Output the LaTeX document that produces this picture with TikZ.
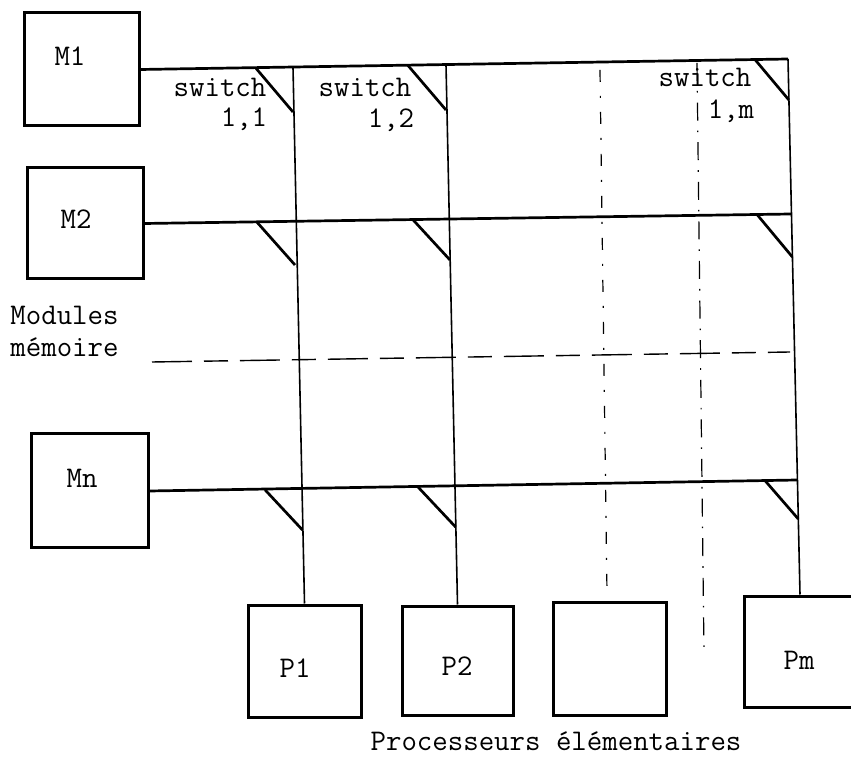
\documentclass[tikz,border=0pt]{standalone}
\usepackage{fontspec}
\begin{document}
\begin{tikzpicture}[x=0.5pt,y=-0.5pt,
  box/.style 2 args={draw, line width=1.5pt, inner sep=0pt, minimum width=#1*0.5pt, minimum height=#2*0.5pt},
  lbl/.style={font=\fontsize{15pt}{18pt}\ttfamily, inner sep=0pt, anchor=base},
  lblw/.style={lbl, anchor=base west},
  bus/.style={line width=1.35pt},
  col/.style={line width=0.8pt},
  sw/.style={line width=1.35pt},
  dashdotcol/.style={line width=0.6pt, dash pattern=on 6pt off 7pt on 1pt off 7pt},
  dashcol/.style={line width=0.6pt, dash pattern=on 9pt off 5pt on 0.8pt off 5pt},
  dashrow/.style={line width=0.7pt, dash pattern=on 20pt off 6pt on 12pt off 6pt}
]
\useasboundingbox (0,0) rectangle (851,758);

% memory modules
\node[box={115}{113}] (M1) at (81.5,69.5) {};
\node[box={116}{111}] (M2) at (85,223.5) {};
\node[box={117}{114}] (Mn) at (89.5,491) {};
% processors
\node[box={113}{112}] (P1) at (304.5,661) {};
\node[box={111}{109}] (P2) at (457.5,660.5) {};
\node[box={113}{113}] (Pk) at (609.5,658.5) {};
\node[box={112}{111}] (Pm) at (800,651.5) {};

% labels
\node[lbl] (tM1) at (70,66) {M1};
\node[lbl] (tM2) at (76,229) {M2};
\node[lbl] (tMn) at (82,488) {Mn};
\node[lbl] (tP1) at (295,677) {P1};
\node[lbl] (tP2) at (457,675) {P2};
\node[lbl] (tPm) at (799,669) {Pm};
\node[lblw] (tmod) at (10,325) {Modules};
\node[lblw] (tmem) at (10,357) {mémoire};
\node[lbl] (tproc) at (556,750) {Processeurs élémentaires};
\node[lbl] (sw11) at (220,97) {switch};
\node[lbl] (n11) at (244,127) {1,1};
\node[lbl] (sw12) at (365,97) {switch};
\node[lbl] (n12) at (391,128) {1,2};
\node[lbl] (sw1m) at (705,87) {switch};
\node[lbl] (n1m) at (731,119) {1,m};

% bus end / column top coordinates
\coordinate (r1) at (788,59);
\coordinate (r2) at (791,214);
\coordinate (rn) at (797,480);
\coordinate (t1) at (293,67.4);
\coordinate (t2) at (446,64.8);

% horizontal buses
\draw[bus] (M1.east) -- (r1);
\draw[bus] (M2.east) -- (r2);
\draw[bus] (Mn.east) -- (rn);

% vertical columns
\draw[col] (t1) -- (P1.north);
\draw[col] (t2) -- (P2.north);
\draw[col] (r1) -- (Pm.north);

% dashed columns and row
\coordinate (d3a) at (600,70);
\coordinate (d3b) at (607,593);
\coordinate (d4a) at (697,63);
\coordinate (d4b) at (704,653);
\coordinate (dha) at (152,362);
\coordinate (dhb) at (790,352);
\draw[dashdotcol] (d3a) -- (d3b);
\draw[dashcol] (d4a) -- (d4b);
\draw[dashrow] (dha) -- (dhb);

% switches
\coordinate (a11) at (256,68.3);  \coordinate (b11) at (293,112);
\coordinate (a12) at (408,65.5);  \coordinate (b12) at (446,110);
\coordinate (a1m) at (755,59.6);  \coordinate (b1m) at (788.9,100);
\coordinate (a21) at (257,222.2); \coordinate (b21) at (295,265);
\coordinate (a22) at (413,219.8); \coordinate (b22) at (450,260);
\coordinate (a2m) at (757,214.5); \coordinate (b2m) at (792.4,257);
\coordinate (an1) at (265,489.8); \coordinate (bn1) at (302.5,530);
\coordinate (an2) at (418,487);   \coordinate (bn2) at (455.6,527);
\coordinate (anm) at (765,480.6); \coordinate (bnm) at (798.3,519);
\foreach \s in {11,12,1m,21,22,2m,n1,n2,nm}{
  \draw[sw] (a\s) -- (b\s);
}
\end{tikzpicture}
\end{document}
